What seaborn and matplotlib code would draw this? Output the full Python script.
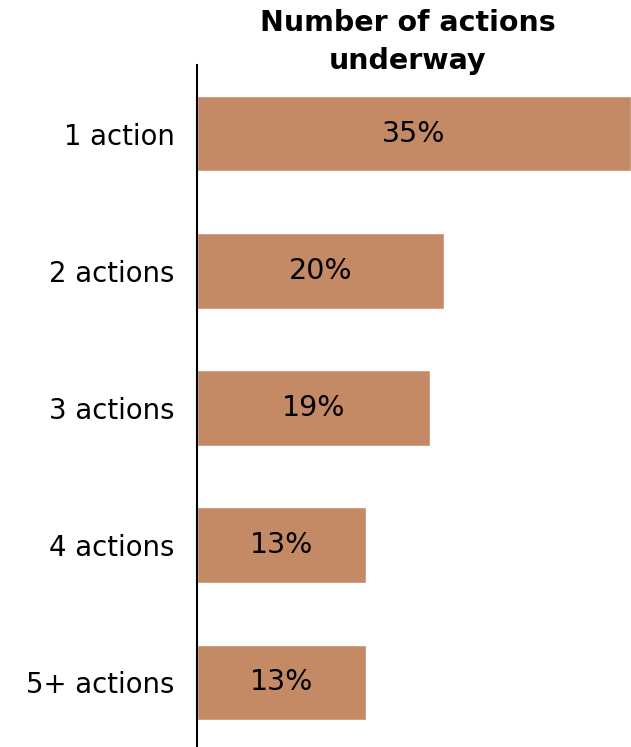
import matplotlib
matplotlib.use("Agg")
import matplotlib.pyplot as plt
import seaborn as sns
import pandas as pd

# Data
categories = ["1 action", "2 actions", "3 actions", "4 actions", "5+ actions"]
shares = [35.0, 19.9, 18.8, 13.6, 13.6]
share_labels = ["35%", "20%", "19%", "13%", "13%"]

df = pd.DataFrame({"category": categories, "share": shares})

sns.set_style("white")
plt.rcParams['font.family'] = ['DejaVu Sans']
plt.rcParams['text.color'] = 'black'
plt.rcParams['ytick.color'] = 'black'

fig = plt.figure(figsize=(6.31, 7.47), dpi=100)
ax = fig.add_axes([197 / 631, -4 / 747, 434 / 631, 686 / 747])

sns.barplot(data=df, x="share", y="category", orient="h", color="#C48A66",
            saturation=1, width=0.55, ax=ax)

ax.set_xlim(0, 35.0)
ax.set_ylim(4.5, -0.5)

# value labels in the middle of each bar
for i, (v, lab) in enumerate(zip(shares, share_labels)):
    ax.text(v / 2, i, lab, ha="center", va="center", fontsize=20.5, color="black")

ax.set_xlabel("")
ax.set_ylabel("")
ax.set_xticks([])
ax.tick_params(axis="y", length=0, pad=16, labelsize=19.8, labelcolor="black")
for side in ["top", "right", "bottom"]:
    ax.spines[side].set_visible(False)
ax.spines["left"].set_color("black")
ax.spines["left"].set_linewidth(1.5)

fig.text(408 / 631, 1 - 42 / 747, "Number of actions\nunderway", ha="center",
         va="center", fontsize=20.5, fontweight="bold", linespacing=1.45,
         color="black")

fig.savefig("out.png", dpi=100)
